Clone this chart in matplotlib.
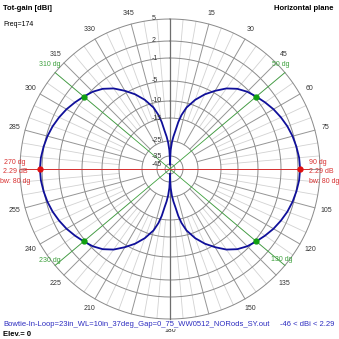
import numpy as np
import matplotlib
matplotlib.use('Agg')
import matplotlib.pyplot as plt

plt.rcParams['font.family'] = ['Liberation Sans', 'DejaVu Sans']

# gain pattern (dBi), 0..90 deg, pattern is symmetric
az = [0, 1, 2, 4, 6, 8, 10, 12, 15, 20, 25, 30, 35, 40, 45, 50, 55, 60, 65, 70, 75, 80, 85, 90]
gain = [-46, -36, -31, -26, -23, -20.5, -16.5, -13.8, -11.3, -8.6, -6.4, -4.6, -3.2, -2.1,
        -1.3, -0.71, -0.1, 0.5, 1.0, 1.45, 1.8, 2.05, 2.22, 2.29]

max_gain = 2.29
min_gain = -46
max_dirs = [90, 270]
hp_dirs = [50, 130, 230, 310]
beamwidth = 80
freq = 174
elev = 0

ring_db = [5, 2, -1, -5, -10, -15, -25, -35, -45]
ring_lbl = ['5', '2', '-1', '-5', '-10', '-15', '-25', '-35', '-45']
# 90/270 and 165/195 are hidden under other text in the original
ang_lbl = [15, 30, 45, 60, 75, 105, 120, 135, 150, 180, 210, 225, 240, 255, 285, 300, 315, 330, 345]

# 4nec2 style log radial scale (radius units = pixels)
scale_db = [-60, -45, -35, -25, -15, -10, -5, -1, 2, 5]
scale_r = [0, 5, 13, 28, 51, 68, 88, 111, 128, 150]


def rad(db):
    return np.interp(db, scale_db, scale_r)


def px(v):
    return v * 0.72


fig = plt.figure(figsize=(3.39, 3.39), dpi=100)
ax = fig.add_axes([20 / 339, 20 / 339, 300 / 339, 300 / 339], projection='polar')
ax.set_theta_zero_location('N')
ax.set_theta_direction(-1)
ax.set_rlim(0, 150)
ax.axis('off')

R = rad(5)
th = np.linspace(0, 2 * np.pi, 721)

# rings
for d in ring_db:
    ax.plot(th, np.full_like(th, rad(d)), color='#8a8a8a', lw=0.7, clip_on=False, zorder=1)

# spokes
for a in range(0, 360, 5):
    t = np.radians(a)
    if a % 180 == 0:
        ax.plot([t, t], [0, R], color='#6e6e6e', lw=0.9, clip_on=False, zorder=1)
    elif a % 15 == 0:
        ax.plot([t, t], [rad(-25), R], color='#959595', lw=0.7, clip_on=False, zorder=1)
    else:
        ax.plot([t, t], [rad(-15), R], color='#d2d2d2', lw=0.6, clip_on=False, zorder=0.9)

# half power lines
for a in hp_dirs:
    t = np.radians(a)
    ax.plot([t, t], [0, R], color='#3da03d', lw=0.6, clip_on=False, zorder=2)

# max gain line
ax.plot([np.radians(90), np.radians(90)], [0, 139], color='#d83030', lw=0.7, clip_on=False, zorder=2)
ax.plot([np.radians(270), np.radians(270)], [0, 145], color='#d83030', lw=0.7, clip_on=False, zorder=2)

# pattern
a = np.array(az, dtype=float)
g = np.array(gain)
full_a = np.concatenate([a, 180 - a[::-1], 180 + a, 360 - a[::-1]])
full_g = np.concatenate([g, g[::-1], g, g[::-1]])
ax.plot(np.radians(full_a), rad(full_g), color='#10109a', lw=1.3, clip_on=False, zorder=3)

hp_gain = max_gain - 3
ax.plot(np.radians(hp_dirs), [rad(hp_gain)] * 4, 'o', color='#12a012', ms=3.5, clip_on=False, zorder=4)
ax.plot(np.radians(max_dirs), [rad(max_gain)] * 2, 'o', color='#e01010', ms=3.5, clip_on=False, zorder=4)

# ring labels
for d, s in zip(ring_db, ring_lbl):
    ax.annotate(s, xy=(0, rad(d)), xytext=(px(-18), 0), textcoords='offset points',
                ha='left', va='center', fontsize=5, color='#333333', zorder=5)

# angle labels
for ang in ang_lbl:
    ax.text(np.radians(ang), 161.5, str(ang), ha='center', va='center', fontsize=5,
            color='#333333', clip_on=False, zorder=2)
ax.annotate('0', xy=(0, 160), xytext=(px(-7), 0), textcoords='offset points',
            ha='center', va='center', fontsize=5, color='#333333')
ax.annotate('Y', xy=(0, 160), xytext=(px(7), 0), textcoords='offset points',
            ha='center', va='center', fontsize=5.5, fontweight='bold', color='black')

# half power labels
hp_off = {50: (-4, 8), 310: (-5, 8), 130: (-3, 6), 230: (-5, 5)}
for a_ in hp_dirs:
    ox, oy = hp_off[a_]
    ax.annotate(f'{a_} dg', xy=(np.radians(a_), R), xytext=(px(ox), px(oy)),
                textcoords='offset points', ha='center', va='center', fontsize=5,
                color='#3da03d', zorder=5)

# max gain labels
for a_, ox, ha in [(90, 9, 'left'), (270, -25, 'center')]:
    for s, oy in [(f'{a_} dg', 7), (f'{max_gain} dB', -2.7), (f'bw: {beamwidth} dg', -12.7)]:
        ax.annotate(s, xy=(np.radians(a_), rad(max_gain)), xytext=(px(ox), px(oy)),
                    textcoords='offset points', ha=ha, va='center', fontsize=5,
                    color='#d83030', zorder=5)

# header / footer
fig.text(3 / 339, 1 - 8 / 339, 'Tot-gain [dBi]', ha='left', va='center', fontsize=5.5,
         fontweight='bold')
fig.text(3 / 339, 1 - 25 / 339, f'Freq={freq}', ha='left', va='center', fontsize=5)
fig.text(334 / 339, 1 - 8 / 339, 'Horizontal plane', ha='right', va='center', fontsize=5.5,
         fontweight='bold')
fig.text(3 / 339, 1 - 325 / 339, 'Bowtie-In-Loop=23in_WL=10in_37deg_Gap=0_75_WW0512_NORods_SY.out',
         ha='left', va='center', fontsize=5.5, color='#2c2cc0',
         bbox=dict(facecolor='white', edgecolor='none', pad=0.3), zorder=10)
fig.text(334 / 339, 1 - 325 / 339, f'{min_gain} < dBi < {max_gain}', ha='right', va='center',
         fontsize=5.5, color='#2c2cc0')
fig.text(3 / 339, 1 - 335 / 339, f'Elev.= {elev}', ha='left', va='center', fontsize=5.5,
         fontweight='bold')

fig.savefig('out.png', dpi=100)
